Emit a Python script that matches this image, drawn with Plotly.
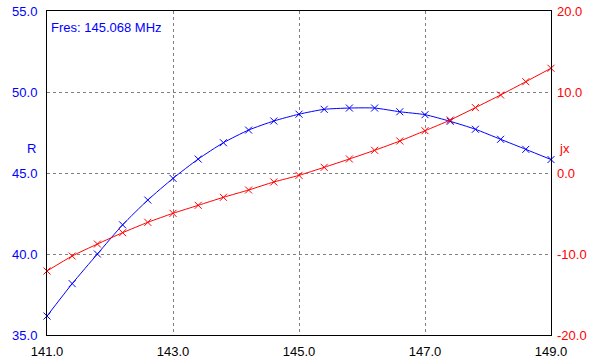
import plotly.graph_objects as go

freq = [141.0, 141.4, 141.8, 142.2, 142.6, 143.0, 143.4, 143.8, 144.2, 144.6, 145.0,
        145.4, 145.8, 146.2, 146.6, 147.0, 147.4, 147.8, 148.2, 148.6, 149.0]
r_vals = [36.17, 38.17, 40.0, 41.8, 43.33, 44.67, 45.86, 46.87, 47.65, 48.21, 48.63,
          48.93, 49.01, 49.01, 48.78, 48.6, 48.19, 47.7, 47.08, 46.46, 45.83]
jx_vals = [-12.1, -10.25, -8.77, -7.37, -6.09, -4.98, -3.99, -3.0, -2.1, -1.11, -0.29,
           0.7, 1.73, 2.8, 3.95, 5.22, 6.54, 8.07, 9.63, 11.27, 12.93]
x_ticks = [141.0, 143.0, 145.0, 147.0, 149.0]
r_ticks = [35.0, 40.0, 45.0, 50.0, 55.0]
jx_ticks = [-20.0, -10.0, 0.0, 10.0, 20.0]
fres_text = "Fres: 145.068 MHz"

BLUE = "#0000ff"
RED = "#ff0000"
FONT = "Liberation Sans, Arial, sans-serif"
GRID = "#808080"
FS = 13

fig = go.Figure()
fig.add_trace(go.Scatter(
    x=freq, y=r_vals, mode="lines+markers", name="R",
    line=dict(color=BLUE, width=1, shape="spline", smoothing=0.6),
    marker=dict(symbol="x-thin", size=7, line=dict(color=BLUE, width=1), color=BLUE),
    yaxis="y", showlegend=False, cliponaxis=False))
fig.add_trace(go.Scatter(
    x=freq, y=jx_vals, mode="lines+markers", name="jx",
    line=dict(color=RED, width=1, shape="spline", smoothing=0.6),
    marker=dict(symbol="x-thin", size=7, line=dict(color=RED, width=1), color=RED),
    yaxis="y2", showlegend=False, cliponaxis=False))

fig.update_layout(
    width=591, height=360,
    margin=dict(l=47, r=40, t=11, b=25, autoexpand=False),
    paper_bgcolor="white", plot_bgcolor="white",
    font=dict(family=FONT, size=FS),
    xaxis=dict(range=[141, 149], tickvals=x_ticks,
               ticktext=[f"{v:.1f}" for v in x_ticks],
               showgrid=True, gridcolor=GRID, griddash="3px,3px", gridwidth=1,
               showline=True, linecolor="black", linewidth=1, mirror=True,
               zeroline=False, ticks="", ticklabelstandoff=4, automargin=False,
               tickfont=dict(color="black", size=FS, family=FONT)),
    yaxis=dict(range=[35, 55], tickvals=r_ticks,
               ticktext=[f"{v:.1f}" for v in r_ticks],
               showgrid=True, gridcolor=GRID, griddash="3px,3px", gridwidth=1,
               showline=True, linecolor="black", linewidth=1, mirror=True,
               zeroline=False, ticks="", ticklabelstandoff=6, automargin=False,
               tickfont=dict(color=BLUE, size=FS, family=FONT)),
    yaxis2=dict(range=[-20, 20], tickvals=jx_ticks,
                ticktext=[f"{v:.1f}" for v in jx_ticks],
                overlaying="y", side="right", showgrid=False,
                zeroline=False, ticks="", ticklabelstandoff=5, automargin=False,
                tickfont=dict(color=RED, size=FS, family=FONT)),
    annotations=[
        dict(text=fres_text, xref="paper", yref="paper", x=0.004, y=0.95,
             xanchor="left", yanchor="middle", showarrow=False,
             font=dict(color=BLUE, size=FS, family=FONT)),
        dict(text="R", xref="paper", yref="paper", x=-0.017, y=0.575,
             xanchor="right", yanchor="middle", showarrow=False,
             font=dict(color=BLUE, size=FS, family=FONT)),
        dict(text="jx", xref="paper", yref="paper", x=1.012, y=0.575,
             xanchor="left", yanchor="middle", showarrow=False,
             font=dict(color=RED, size=FS, family=FONT)),
    ],
)

fig.write_html("out.html", config={"displayModeBar": False},
               post_script="document.body.style.margin='0';document.body.style.padding='0';")
